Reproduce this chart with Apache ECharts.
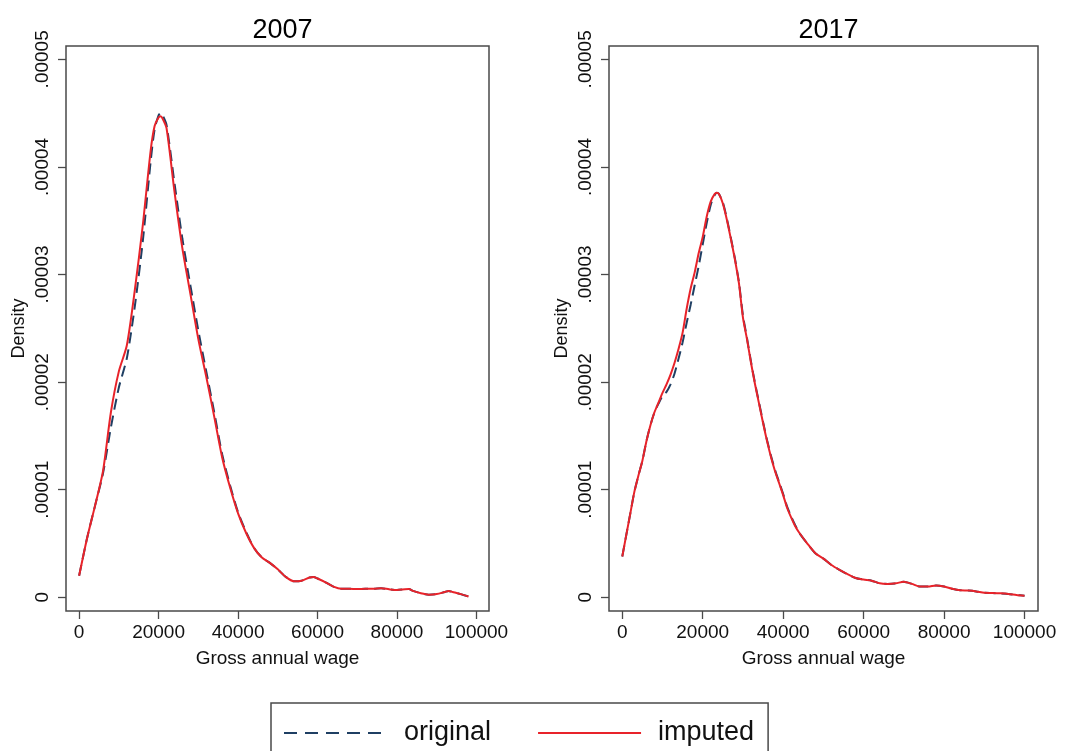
<!DOCTYPE html>
<html>
<head>
<meta charset="utf-8">
<script src="https://cdn.jsdelivr.net/npm/echarts@6/dist/echarts.min.js"></script>
<style>
html,body{margin:0;padding:0;background:#fff;}
#chart{width:1073px;height:751px;}
</style>
</head>
<body>
<div id="chart"></div>
<script>
// ---- data (density values in units of 1e-5) ----
const panelTitles = ['2007', '2017'];
const seriesNames = ['original', 'imputed'];
const xTickValues = [0, 20000, 40000, 60000, 80000, 100000];
const xTickLabels = ['0', '20000', '40000', '60000', '80000', '100000'];
const yTickValues = [0, 1, 2, 3, 4, 5];
const yTickLabels = ['0', '.00001', '.00002', '.00003', '.00004', '.00005'];

const wage2007 = [0,2000,4000,6000,8000,10000,12000,14000,16000,18000,19000,20000,20500,21000,22000,24000,26000,28000,30000,32000,34000,36000,38000,40000,42000,44000,46000,48000,50000,52000,54000,56000,58000,59000,60000,62000,64000,66000,68000,70000,72000,74000,76000,78000,80000,82000,83000,84000,86000,88000,90000,92000,93000,94000,96000,98000];
const orig2007 = [0.20,0.55,0.85,1.15,1.58,1.95,2.22,2.70,3.30,4.05,4.35,4.48,4.50,4.48,4.39,3.85,3.33,2.90,2.48,2.10,1.72,1.33,1.04,0.79,0.61,0.46,0.37,0.32,0.26,0.19,0.15,0.155,0.185,0.19,0.175,0.14,0.10,0.08,0.08,0.077,0.08,0.08,0.085,0.075,0.068,0.075,0.077,0.06,0.038,0.025,0.03,0.05,0.06,0.05,0.03,0.008];
const imp2007 = [0.20,0.55,0.85,1.17,1.72,2.10,2.34,2.85,3.45,4.15,4.38,4.46,4.47,4.45,4.36,3.77,3.24,2.82,2.40,2.05,1.68,1.30,1.02,0.78,0.60,0.46,0.37,0.32,0.26,0.19,0.15,0.155,0.185,0.19,0.175,0.14,0.10,0.08,0.08,0.077,0.08,0.08,0.085,0.075,0.068,0.075,0.077,0.06,0.038,0.025,0.03,0.05,0.06,0.05,0.03,0.008];

const wage2017 = [0,1000,2000,3000,4000,5000,6000,7000,8000,9000,10000,11000,12000,13000,14000,15000,16000,17000,18000,19000,20000,21000,22000,23000,23500,24000,25000,26000,27000,28000,29000,30000,31000,32000,33000,34000,35000,36000,37000,38000,39000,40000,41000,42000,43000,44000,46000,48000,50000,52000,54000,56000,58000,60000,62000,64000,66000,68000,70000,72000,74000,76000,78000,80000,82000,84000,86000,88000,90000,92000,94000,96000,98000,100000];
const orig2017 = [0.38,0.58,0.78,0.98,1.13,1.27,1.45,1.60,1.72,1.80,1.87,1.91,1.98,2.08,2.22,2.37,2.55,2.72,2.90,3.08,3.28,3.48,3.65,3.74,3.76,3.75,3.67,3.52,3.34,3.15,2.93,2.62,2.41,2.19,1.99,1.81,1.63,1.46,1.31,1.18,1.07,0.96,0.84,0.75,0.67,0.60,0.50,0.41,0.36,0.30,0.255,0.215,0.18,0.165,0.155,0.13,0.125,0.13,0.145,0.125,0.10,0.10,0.11,0.10,0.08,0.066,0.063,0.055,0.042,0.04,0.037,0.032,0.022,0.015];
const imp2017 = [0.38,0.58,0.78,0.98,1.13,1.27,1.45,1.60,1.72,1.81,1.90,1.98,2.07,2.18,2.31,2.46,2.68,2.87,3.02,3.20,3.35,3.54,3.68,3.75,3.76,3.75,3.66,3.51,3.33,3.14,2.92,2.60,2.40,2.18,1.98,1.80,1.62,1.45,1.30,1.17,1.06,0.95,0.83,0.74,0.66,0.60,0.50,0.41,0.36,0.30,0.255,0.215,0.18,0.165,0.155,0.13,0.125,0.13,0.145,0.125,0.10,0.10,0.11,0.10,0.08,0.066,0.063,0.055,0.042,0.04,0.037,0.032,0.022,0.015];

// ---- chart ----
const FONT = '"Liberation Sans", Arial, Helvetica, sans-serif';
const BLUE = '#1f3f63';
const RED = '#e8232a';
const FRAME = '#4a4a4a';

function pairs(xs, ys) { return xs.map((x, i) => [x, ys[i]]); }

const grids = [
  { left: 66, top: 46, width: 423, height: 565 },
  { left: 609, top: 46, width: 429, height: 565 }
];
const xMax = [103150, 103350];

function xAxisFor(i) {
  return {
    type: 'value', gridIndex: i, min: -3300, max: xMax[i],
    splitLine: { show: false },
    axisLine: { show: false, onZero: false },
    axisTick: { show: true, inside: false, length: 8, customValues: xTickValues, lineStyle: { color: FRAME, width: 1.3 } },
    axisLabel: { show: true, customValues: xTickValues, margin: 12, fontSize: 19, color: '#111', fontFamily: FONT,
      formatter: v => xTickLabels[xTickValues.indexOf(v)] },
    name: 'Gross annual wage', nameLocation: 'middle', nameGap: 38, nameMoveOverlap: false,
    nameTextStyle: { fontSize: 19, color: '#111', fontFamily: FONT }
  };
}
function yAxisFor(i) {
  return {
    type: 'value', gridIndex: i, min: -0.127, max: 5.124,
    splitLine: { show: false },
    axisLine: { show: false, onZero: false },
    axisTick: { show: true, inside: false, length: 8, customValues: yTickValues, lineStyle: { color: FRAME, width: 1.3 } },
    axisLabel: { show: true, customValues: yTickValues, rotate: 90, margin: 14, fontSize: 19, color: '#111', fontFamily: FONT,
      formatter: v => yTickLabels[yTickValues.indexOf(v)] },
    name: 'Density', nameLocation: 'middle', nameGap: 38, nameRotate: 90, nameMoveOverlap: false,
    nameTextStyle: { fontSize: 18, color: '#111', fontFamily: FONT }
  };
}

const origLine = { color: BLUE, width: 2, type: [11, 6] };
const impLine = { color: RED, width: 2, type: 'solid' };

const option = {
  backgroundColor: '#fff',
  animation: false,
  title: [
    { text: panelTitles[0], left: 277.5, top: 12, textAlign: 'center', textStyle: { fontSize: 27, fontWeight: 'normal', color: '#000', fontFamily: FONT } },
    { text: panelTitles[1], left: 823.5, top: 12, textAlign: 'center', textStyle: { fontSize: 27, fontWeight: 'normal', color: '#000', fontFamily: FONT } }
  ],
  grid: grids.map(g => Object.assign({ show: true, borderColor: FRAME, borderWidth: 1.5, backgroundColor: '#fff' }, g)),
  xAxis: [xAxisFor(0), xAxisFor(1)],
  yAxis: [yAxisFor(0), yAxisFor(1)],
  legend: {
    data: [
      { name: seriesNames[0], itemStyle: { opacity: 0 }, lineStyle: { color: BLUE, width: 2, type: [13, 8] } },
      { name: seriesNames[1], itemStyle: { opacity: 0 }, lineStyle: { color: RED, width: 2, type: 'solid' } }
    ],
    left: 271, top: 703,
    orient: 'horizontal',
    itemWidth: 103, itemHeight: 12, itemGap: 46,
    borderColor: FRAME, borderWidth: 1.5,
    padding: [14, 14, 40, 12],
    textStyle: { fontSize: 27, color: '#111', fontFamily: FONT, lineHeight: 32, padding: [0, 0, 0, 12] }
  },
  series: [
    { name: seriesNames[0], type: 'line', xAxisIndex: 0, yAxisIndex: 0, data: pairs(wage2007, orig2007), smooth: 0.25, symbol: 'none', lineStyle: origLine, itemStyle: { color: BLUE }, z: 2 },
    { name: seriesNames[1], type: 'line', xAxisIndex: 0, yAxisIndex: 0, data: pairs(wage2007, imp2007), smooth: 0.25, symbol: 'none', lineStyle: impLine, itemStyle: { color: RED }, z: 3 },
    { name: seriesNames[0], type: 'line', xAxisIndex: 1, yAxisIndex: 1, data: pairs(wage2017, orig2017), smooth: 0.25, symbol: 'none', lineStyle: origLine, itemStyle: { color: BLUE }, z: 2 },
    { name: seriesNames[1], type: 'line', xAxisIndex: 1, yAxisIndex: 1, data: pairs(wage2017, imp2017), smooth: 0.25, symbol: 'none', lineStyle: impLine, itemStyle: { color: RED }, z: 3 }
  ]
};

const chart = echarts.init(document.getElementById('chart'), null, { renderer: 'canvas' });
chart.setOption(option);
</script>
</body>
</html>
